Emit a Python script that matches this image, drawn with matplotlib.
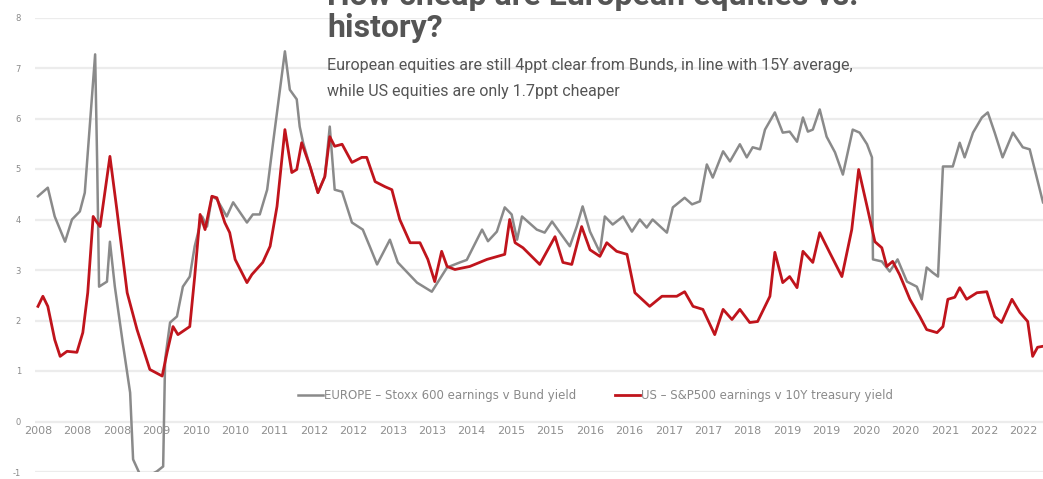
import numpy as np
import matplotlib
matplotlib.use("Agg")
import matplotlib.pyplot as plt

# month index (0 = first point of the chart) and spread values
eu_month = [0.0, 2.0, 3.4, 5.5, 6.9, 8.5, 9.5, 10.5, 11.6, 12.0, 12.4, 14.0, 14.6, 15.6,
            17.2, 18.7, 19.3, 20.7, 22.1, 24.1, 25.4, 25.8, 26.8, 28.2, 29.4, 30.8,
            31.8, 33.3, 34.3, 35.3, 36.3, 38.3, 39.6, 42.4, 43.6, 45.0, 46.5, 47.7,
            49.1, 50.1, 51.1, 52.5, 53.1, 53.8, 55.2, 56.8, 58.2, 59.2, 60.2, 61.7,
            63.7, 65.9, 67.3, 68.8, 71.4, 73.0, 76.9, 79.9, 83.0, 85.6, 87.0, 90.1,
            91.3, 93.1, 94.7, 96.1, 97.2, 98.2, 101.2, 102.8, 104.3, 105.9, 107.9,
            109.3, 110.5, 112.0, 114.0, 115.0, 116.6, 118.7, 120.5, 122.1, 123.5,
            124.7, 127.6, 128.8, 131.2, 132.7, 134.3, 135.7, 136.9, 139.0, 140.4,
            142.4, 143.8, 145.0, 146.5, 147.5, 149.5, 151.1, 152.5, 154.0, 155.2,
            156.2, 157.2, 158.6, 160.0, 161.7, 163.3, 165.3, 166.7, 168.2, 169.2,
            169.4, 171.2, 172.8, 174.4, 176.3, 178.3, 179.3, 180.3, 181.5, 182.6,
            183.6, 185.6, 187.0, 188.0, 189.7, 191.5, 192.7, 194.1, 195.7, 197.8,
            199.8, 201.2, 203.9]
eu_val = [4.46, 4.63, 4.06, 3.56, 4.0, 4.16, 4.53, 5.84, 7.27, 5.19, 2.67, 2.77, 3.56, 2.67,
          1.56, 0.57, -0.75, -1.05, -1.09, -0.99, -0.89, 1.23, 1.96, 2.08, 2.67, 2.87,
          3.47, 4.06, 3.86, 4.46, 4.4, 4.06, 4.34, 3.94, 4.1, 4.1, 4.59, 5.52,
          6.57, 7.33, 6.57, 6.38, 5.84, 5.52, 5.05, 4.53, 4.85, 5.84, 4.59, 4.55,
          3.94, 3.8, 3.47, 3.11, 3.6, 3.15, 2.75, 2.57, 3.05, 3.15, 3.2, 3.8,
          3.57, 3.76, 4.24, 4.1, 3.6, 4.06, 3.8, 3.74, 3.96, 3.74, 3.47,
          3.86, 4.26, 3.76, 3.35, 4.06, 3.9, 4.06, 3.76, 4.0, 3.84,
          4.0, 3.74, 4.24, 4.43, 4.3, 4.36, 5.09, 4.83, 5.35, 5.15,
          5.49, 5.23, 5.43, 5.39, 5.78, 6.12, 5.72, 5.74, 5.54, 6.02,
          5.74, 5.78, 6.18, 5.64, 5.33, 4.89, 5.78, 5.72, 5.49, 5.23,
          3.21, 3.17, 2.97, 3.21, 2.77, 2.67, 2.42, 3.05, 2.95, 2.87,
          5.05, 5.05, 5.52, 5.23, 5.72, 6.02, 6.12, 5.72, 5.23, 5.72,
          5.43, 5.39, 4.34]

us_month = [0.0, 1.0, 2.0, 3.4, 4.5, 5.9, 7.9, 9.1, 10.1, 11.2, 12.0, 12.6, 14.6, 16.0,
            18.1, 20.1, 22.7, 25.2, 26.2, 27.4, 28.4, 30.8, 31.8, 32.9, 33.9, 35.3,
            36.3, 37.9, 38.9, 40.0, 42.4, 43.4, 45.6, 47.1, 48.5, 50.1, 51.5, 52.5,
            53.5, 55.2, 56.8, 58.2, 59.2, 60.2, 61.7, 63.7, 65.7, 66.7, 68.4, 70.4,
            71.8, 73.4, 75.5, 77.5, 79.1, 80.5, 81.9, 83.0, 84.6, 87.6, 91.1, 94.7,
            95.7, 96.8, 98.4, 101.8, 104.9, 106.5, 108.3, 110.3, 112.0, 114.0, 115.4,
            117.4, 119.5, 121.1, 124.1, 126.6, 129.6, 131.2, 132.9, 134.9, 137.3,
            139.0, 140.8, 142.4, 144.4, 146.0, 147.9, 148.5, 149.5, 151.1, 152.5,
            154.0, 155.2, 157.2, 158.6, 160.6, 163.1, 165.1, 166.5, 168.2, 169.8,
            171.2, 172.2, 173.4, 174.8, 176.9, 178.9, 180.3, 182.4, 183.6, 184.6,
            186.0, 187.0, 188.4, 190.5, 192.5, 194.1, 195.5, 197.6, 199.2, 200.8,
            201.8, 202.8, 203.9]
us_val = [2.28, 2.48, 2.28, 1.62, 1.29, 1.39, 1.37, 1.76, 2.55, 4.06, 3.94, 3.86, 5.25, 4.2,
          2.55, 1.82, 1.03, 0.9, 1.37, 1.88, 1.72, 1.88, 2.87, 4.1, 3.8, 4.46,
          4.43, 3.94, 3.74, 3.21, 2.75, 2.91, 3.15, 3.47, 4.26, 5.78, 4.93, 4.99,
          5.52, 5.05, 4.53, 4.85, 5.64, 5.45, 5.49, 5.13, 5.23, 5.23, 4.75, 4.65,
          4.59, 4.0, 3.54, 3.54, 3.21, 2.77, 3.37, 3.07, 3.01, 3.07, 3.21, 3.31,
          4.0, 3.54, 3.44, 3.11, 3.66, 3.15, 3.11, 3.86, 3.4, 3.27, 3.54,
          3.37, 3.31, 2.55, 2.28, 2.48, 2.48, 2.57, 2.28, 2.22, 1.72,
          2.22, 2.02, 2.22, 1.96, 1.98, 2.36, 2.48, 3.35, 2.75, 2.87,
          2.65, 3.37, 3.15, 3.74, 3.35, 2.87, 3.8, 4.99, 4.26, 3.56,
          3.44, 3.07, 3.17, 2.91, 2.42, 2.08, 1.82, 1.76, 1.88, 2.42,
          2.46, 2.65, 2.42, 2.55, 2.57, 2.08, 1.96, 2.42, 2.16, 1.98,
          1.29, 1.47, 1.49]

year_labels = ["2008", "2008", "2008", "2009", "2010", "2010", "2011", "2012", "2012",
               "2013", "2013", "2014", "2015", "2015", "2016", "2016", "2017", "2017",
               "2018", "2019", "2019", "2020", "2020", "2021", "2022", "2022"]
label_step = 8  # months between category labels

title_1 = "How cheap are European equities vs."
title_2 = "history?"
sub_1 = "European equities are still 4ppt clear from Bunds, in line with 15Y average,"
sub_2 = "while US equities are only 1.7ppt cheaper"

narrow = ["Liberation Sans Narrow", "Roboto", "DejaVu Sans"]

fig = plt.figure(figsize=(10.43, 4.79), dpi=100)
ax = fig.add_axes([35 / 1043, 1 - 472 / 479, 1 - 35 / 1043, (472 - 17.5) / 479])

# category labels sit just under the zero line, like the Excel original
ax.spines["bottom"].set_position(("data", 0))
for s in ax.spines.values():
    s.set_visible(False)

ax.plot(eu_month, eu_val, color="#8a8a8a", lw=1.8,
        label="EUROPE \u2013 Stoxx 600 earnings v Bund yield", zorder=2)
ax.plot(us_month, us_val, color="#c0141c", lw=2.0,
        label="US \u2013 S&P500 earnings v 10Y treasury yield", zorder=3)

ax.set_xlim(-0.6, 203.9)
ax.set_ylim(-1, 8)
ax.set_yticks(range(-1, 9))
ax.set_yticklabels([str(v) for v in range(-1, 9)])
ax.set_xticks(np.arange(len(year_labels)) * label_step)
ax.set_xticklabels(year_labels)
ax.tick_params(axis="both", length=0)
ax.tick_params(axis="y", pad=10, labelsize=6, labelcolor="#8a8a8a")
ax.tick_params(axis="x", pad=3, labelsize=8, labelcolor="#8f8f8f")
ax.grid(axis="y", color="#ececec", lw=1.6)
ax.set_axisbelow(True)

leg = ax.legend(loc="center", bbox_to_anchor=(0.556, 0.169), ncol=2, frameon=False,
                fontsize=8.5, handlelength=2.1, handletextpad=0.1, columnspacing=3.3)
for t in leg.get_texts():
    t.set_color("#8a8a8a")

fig.text(327 / 1043, 1 - 5 / 479, title_1, fontsize=23, fontweight="bold",
         color="#555555", family=narrow, va="baseline", ha="left")
fig.text(327 / 1043, 1 - 37 / 479, title_2, fontsize=23, fontweight="bold",
         color="#555555", family=narrow, va="baseline", ha="left")
fig.text(327 / 1043, 1 - 70 / 479, sub_1, fontsize=11.5,
         color="#555555", family=narrow, va="baseline", ha="left")
fig.text(327 / 1043, 1 - 96 / 479, sub_2, fontsize=11.5,
         color="#555555", family=narrow, va="baseline", ha="left")

fig.savefig("out.png", dpi=100)
